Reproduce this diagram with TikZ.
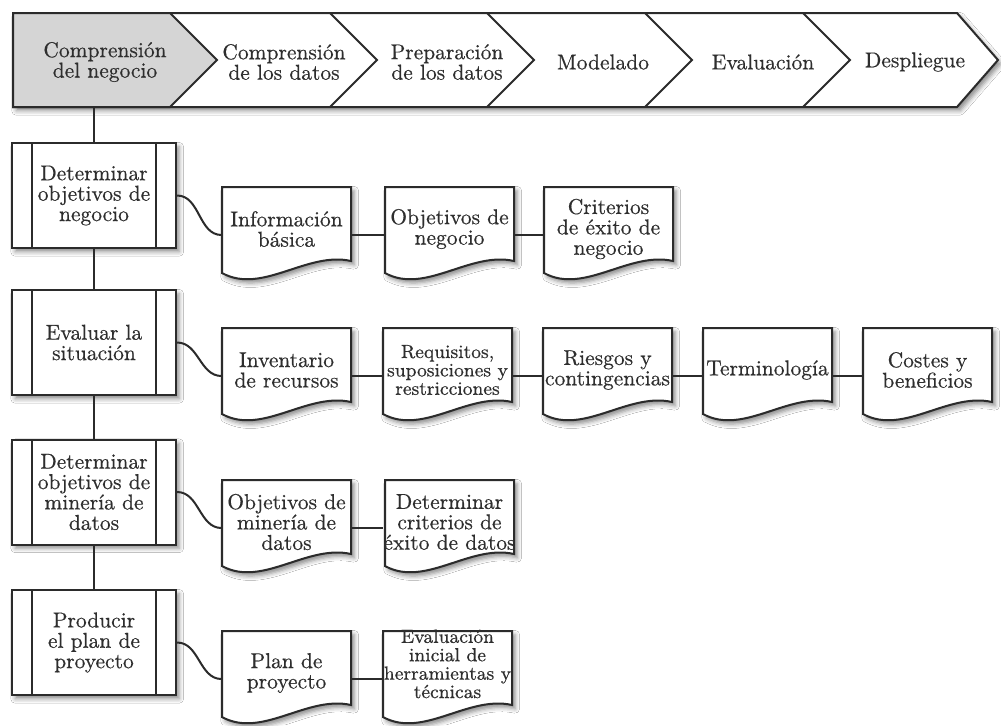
\documentclass[tikz,border=0pt]{standalone}
\usepackage{fontspec}
\usetikzlibrary{calc,backgrounds,shadows.blur}

\newfontfamily\diagfont{Latin Modern Roman}[FakeBold=0.45]

\definecolor{ink}{HTML}{2B2B2B}
\definecolor{txt}{HTML}{2E2E2E}
\definecolor{phase}{HTML}{D5D5D5}

\tikzset{
  softshadow/.style={blur shadow={shadow xshift=1.6pt, shadow yshift=-1.9pt,
      shadow blur radius=2.2pt, shadow opacity=45}},
  outline/.style={draw=ink, line width=1pt, line join=miter},
  txtstyle/.style={text=txt, align=center, inner sep=0pt,
      font=\diagfont\fontsize{10.75}{10.2}\selectfont},
  smalltxt/.style={font=\diagfont\fontsize{9.5}{9.2}\selectfont},
  task/.style={txtstyle, outline, fill=white, softshadow,
      minimum width=82pt, minimum height=52.5pt,
      path picture={\draw[ink, line width=1pt]
        ([xshift=10pt]path picture bounding box.north west) --
        ([xshift=10pt]path picture bounding box.south west)
        ([xshift=-10pt]path picture bounding box.north east) --
        ([xshift=-10pt]path picture bounding box.south east);}},
  doc/.style={txtstyle, minimum width=64.5pt, minimum height=42pt},
  link/.style={draw=ink, line width=1pt},
  lo/.style={yshift=-3pt},
}

% page outline with a wavy lower edge, placed from the centre of a doc node
\newcommand\docpage[1]{%
  \path[outline, fill=white, softshadow]
    ($(#1.center)+(-64.5,-42)$) -- ($(#1.center)+(64.5,-42)$)
    -- ($(#1.center)+(64.5,32)$)
    .. controls ($(#1.center)+(20.5,22)$) and ($(#1.center)+(-24.5,66)$)
    .. ($(#1.center)+(-64.5,44)$) -- cycle;}

\begin{document}
\begin{tikzpicture}[x=0.5pt, y=-0.5pt]
\useasboundingbox (0,0) rectangle (1001,725);

% phase banner labels
\node[txtstyle] (s1) at (105,62) {Comprensión\\del negocio};
\node[txtstyle] (s2) at (284,62) {Comprensión\\de los datos};
\node[txtstyle] (s3) at (447,62) {Preparación\\de los datos};
\node[txtstyle] (s4) at (603,62) {Modelado};
\node[txtstyle] (s5) at (763,62) {Evaluación};
\node[txtstyle] (s6) at (915,62) {Despliegue};
\coordinate (bannerfoot) at (94,107);

% generic tasks
\node[task] (p1) at (94,195.5) {Determinar\\objetivos de\\negocio};
\node[task] (p2) at (94,342.5) {Evaluar la\\situación};
\node[task] (p3) at (94,492) {Determinar\\objetivos de\\minería de\\datos};
\node[task] (p4) at (94,642.5) {Producir\\el plan de\\proyecto};

% outputs (node centre = centre of the upper part of the page)
\node[doc] (d11) at (286.5,229) {Información\\básica};
\node[doc] (d12) at (449.5,229) {Objetivos de\\negocio};
\node[doc] (d13) at (608.5,229) {Criterios\\de éxito de\\negocio};

\node[doc] (d21) at (286.5,370) {Inventario\\de recursos};
\node[doc, smalltxt] (d22) at (447.5,370) {Requisitos,\\suposiciones y\\restricciones};
\node[doc] (d23) at (607.5,370) {Riesgos y\\contingencias};
\node[doc] (d24) at (767.5,370) {Terminología};
\node[doc] (d25) at (927.5,370) {Costes y\\beneficios};

\node[doc] (d31) at (286.5,522) {Objetivos de\\minería de\\datos};
\node[doc] (d32) at (449.5,522) {Determinar\\criterios de\\éxito de datos};

\node[doc] (d41) at (286.5,673) {Plan de\\proyecto};
% four lines: an empty last line lifts the text a little
\node[doc, smalltxt] (d42) at (447.5,673)
  {Evaluación\\inicial de\\herramientas y\\técnicas\\\mbox{}};

% shapes behind the labels
\begin{scope}[on background layer]
  \fill[white] (0,0) rectangle (1001,725);
  \path[outline, fill=white, softshadow]
    (13,13) -- (957,13) -- (998,60) -- (957,107) -- (13,107) -- cycle;
  \path[outline, fill=phase]
    (13,13) -- (170,13) -- (217,60) -- (170,107) -- (13,107) -- cycle;
  \foreach \x in {330,487,645,803}
    \draw[outline] (\x,13) -- ++(47,47) -- ++(-47,47);
  \foreach \n in {d11,d12,d13,d21,d22,d23,d24,d25,d31,d32,d41,d42}
    \docpage{\n};
\end{scope}

% spine
\draw[link] (bannerfoot) -- (p1.north);
\draw[link] (p1.south) -- (p2.north);
\draw[link] (p2.south) -- (p3.north);
\draw[link] (p3.south) -- (p4.north);

% task to first output
\draw[link] (p1.east) to[out=0,in=180] ([lo]d11.west);
\draw[link] (p2.east) to[out=0,in=180] ([lo]d21.west);
\draw[link] (p3.east) to[out=0,in=180] ([lo]d31.west);
\draw[link] (p4.east) to[out=0,in=180] ([lo]d41.west);

% chains of outputs
\draw[link] ([lo]d11.east) -- ([lo]d12.west);
\draw[link] ([lo]d12.east) -- ([lo]d13.west);
\draw[link] ([lo]d21.east) -- ([lo]d22.west);
\draw[link] ([lo]d22.east) -- ([lo]d23.west);
\draw[link] ([lo]d23.east) -- ([lo]d24.west);
\draw[link] ([lo]d24.east) -- ([lo]d25.west);
\draw[link] ([lo]d31.east) -- ([lo]d32.west);
\draw[link] ([lo]d41.east) -- ([lo]d42.west);
\end{tikzpicture}
\end{document}
